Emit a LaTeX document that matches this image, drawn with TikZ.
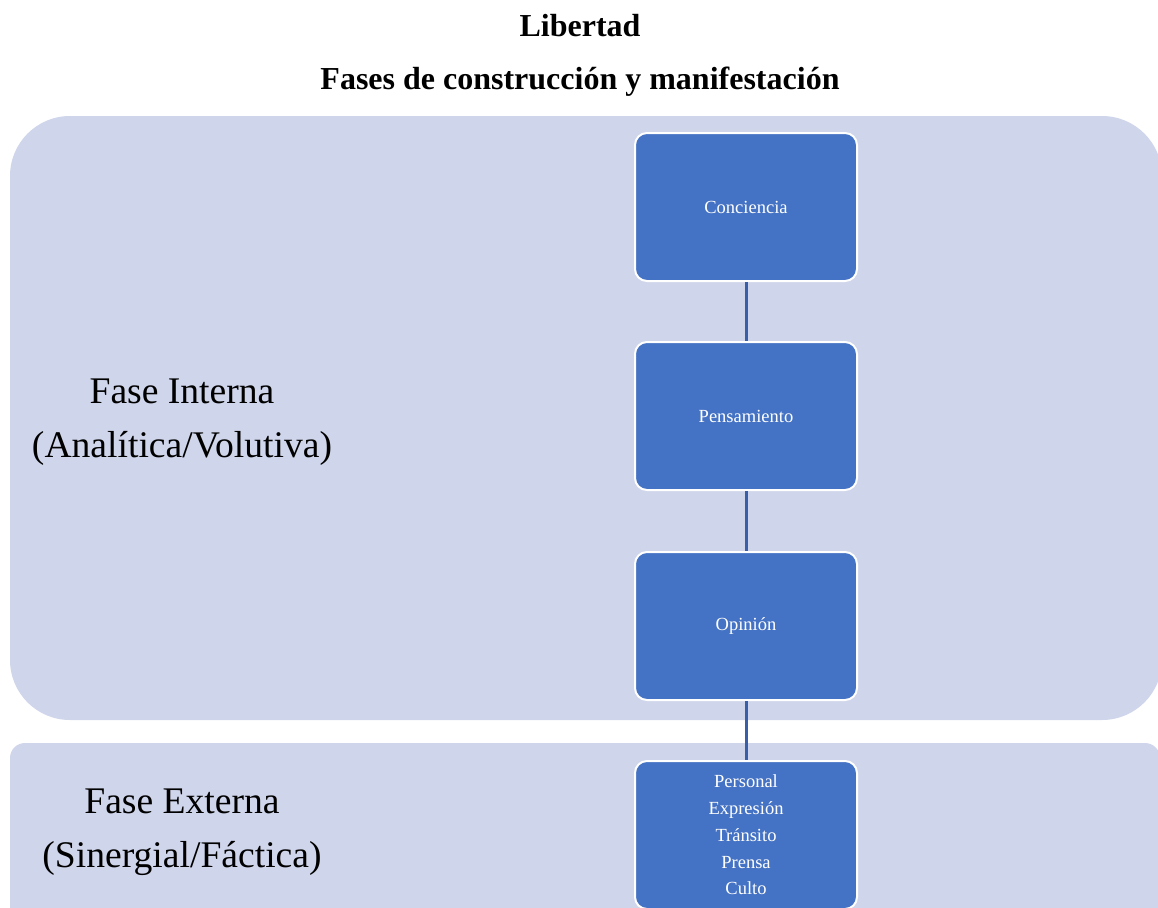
\documentclass[tikz,border=0pt]{standalone}
\usepackage{fontspec}
\setmainfont{Liberation Serif}
\definecolor{panelfill}{HTML}{CFD5EA}
\definecolor{boxfill}{HTML}{4472C4}
\definecolor{linkcol}{HTML}{3A5FAA}
\begin{document}
\begin{tikzpicture}[x=1pt,y=-1pt,
  panel/.style={fill=panelfill,draw=none},
  phasebox/.style={draw=white,line width=2pt,fill=boxfill,rounded corners=12pt,
    minimum width=222pt,minimum height=148pt,inner sep=0pt,text=white,
    font=\fontsize{18.5}{26.7}\selectfont,align=center},
  phasetext/.style={font=\fontsize{37.6}{54}\selectfont,align=center,text=black},
  titletext/.style={font=\bfseries\fontsize{32}{37}\selectfont,text=black},
  link/.style={draw=linkcol,line width=3pt}]
\useasboundingbox (0,0) rectangle (1158,907);
\fill[panel,rounded corners=60pt] (10,116) rectangle (1162,720);
\fill[panel,rounded corners=15pt] (10,743) rectangle (1160,960);
\node[titletext] (t1) at (580,26) {Libertad};
\node[titletext] (t2) at (580,82) {Fases de construcción y manifestación};
\node[phasetext] (fi) at (182,422) {Fase Interna\\(Analítica/Volutiva)};
\node[phasetext] (fe) at (182,832) {Fase Externa\\(Sinergial/Fáctica)};
\node[phasebox] (c) at (746,207) {Conciencia};
\node[phasebox] (p) at (746,416) {Pensamiento};
\node[phasebox] (o) at (746,626) {Opinión};
\node[phasebox,anchor=north] (e) at (746,760) {Personal\\Expresión\\Tránsito\\Prensa\\Culto};
\draw[link] (c.south) -- (p.north);
\draw[link] (p.south) -- (o.north);
\draw[link] (o.south) -- (e.north);
\end{tikzpicture}
\end{document}
